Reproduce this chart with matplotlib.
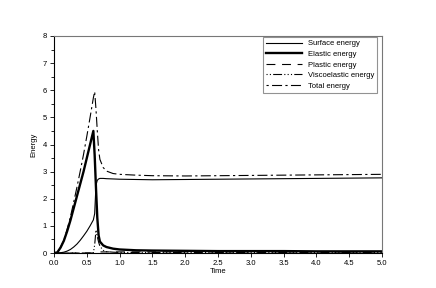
import numpy as np
import matplotlib
matplotlib.use('Agg')
import matplotlib.pyplot as plt

plt.rcParams['font.family'] = ['Liberation Sans', 'DejaVu Sans']

# values
time = [0.0, 0.05, 0.1, 0.15, 0.2, 0.25, 0.3, 0.35, 0.4, 0.45, 0.5, 0.55, 0.6,
        0.62, 0.64, 0.66, 0.68, 0.7, 0.75, 0.8, 0.9, 1.0, 1.25, 1.5, 2.0, 2.5,
        3.0, 3.5, 4.0, 4.5, 5.0]
surface = [0.0, 0.0, 0.01, 0.03, 0.07, 0.13, 0.22, 0.33, 0.47, 0.63, 0.8, 1.0, 1.22,
           1.45, 2.5, 2.68, 2.73, 2.75, 2.75, 2.74, 2.73, 2.72, 2.71, 2.7, 2.71, 2.72,
           2.73, 2.74, 2.75, 2.76, 2.77]
elastic = [0.0, 0.02, 0.2, 0.45, 0.8, 1.2, 1.65, 2.1, 2.55, 3.0, 3.5, 4.0, 4.5,
           3.6, 2.4, 1.3, 0.65, 0.42, 0.28, 0.22, 0.16, 0.13, 0.1, 0.09, 0.08, 0.07,
           0.07, 0.07, 0.06, 0.06, 0.06]
plastic = [0.0, 0.0, 0.0, 0.0, 0.0, 0.0, 0.0, 0.0, 0.0, 0.0, 0.0, 0.0, 0.0,
           0.01, 0.03, 0.04, 0.04, 0.04, 0.04, 0.04, 0.04, 0.04, 0.04, 0.04, 0.04, 0.04,
           0.04, 0.04, 0.04, 0.04, 0.04]
visco = [0.0, 0.0, 0.0, 0.0, 0.0, 0.0, 0.0, 0.0, 0.0, 0.0, 0.0, 0.0, 0.0,
         0.3, 0.85, 0.6, 0.4, 0.25, 0.1, 0.05, 0.03, 0.02, 0.02, 0.02, 0.02, 0.02,
         0.02, 0.02, 0.02, 0.02, 0.02]
total = [0.0, 0.02, 0.21, 0.48, 0.87, 1.33, 1.87, 2.43, 3.02, 3.63, 4.3, 5.0, 5.72,
         5.95, 5.3, 4.5, 3.8, 3.45, 3.15, 3.02, 2.93, 2.9, 2.87, 2.85, 2.84, 2.85,
         2.86, 2.87, 2.88, 2.89, 2.9]

fig = plt.figure(figsize=(4.36, 2.88), dpi=100)
ax = fig.add_axes([54/436, 1 - 253/288, 328/436, 217/288])

ax.plot(time, surface, color='k', lw=0.8, label='Surface energy')
ax.plot(time, elastic, color='k', lw=1.7, label='Elastic energy')
ax.plot(time, plastic, color='k', lw=0.8, linestyle=(0, (8, 6)), label='Plastic energy')
ax.plot(time, visco, color='k', lw=0.8, linestyle=(0, (1, 2, 1, 2, 8, 2, 1, 2)),
        label='Viscoelastic energy')
ax.plot(time, total, color='k', lw=0.8, linestyle=(0, (2, 3, 9, 3)), label='Total energy')

ax.set_xlim(0, 5)
ax.set_ylim(0, 8)
ax.set_xticks(np.arange(0, 5.01, 0.5))
ax.set_yticks(np.arange(0, 9, 1))
ax.set_yticks(np.arange(0.5, 8, 1), minor=True)
ax.tick_params(labelsize=5.5, length=3, width=0.6, pad=2)
ax.tick_params(which='minor', length=2, width=0.6)
ax.set_xlabel('Time', fontsize=5.5, labelpad=1)
ax.set_ylabel('Energy', fontsize=5.5, labelpad=4)

for s in ['top', 'right']:
    ax.spines[s].set_color('#777777')
    ax.spines[s].set_linewidth(0.8)
for s in ['left', 'bottom']:
    ax.spines[s].set_linewidth(0.8)

leg = ax.legend(loc='upper right', bbox_to_anchor=(0.985, 0.995), borderaxespad=0,
                fontsize=5.5, handlelength=4.7, frameon=True, fancybox=False,
                edgecolor='#777777', labelspacing=0.42)
leg.get_frame().set_linewidth(0.8)

fig.savefig('out.png', dpi=100)
